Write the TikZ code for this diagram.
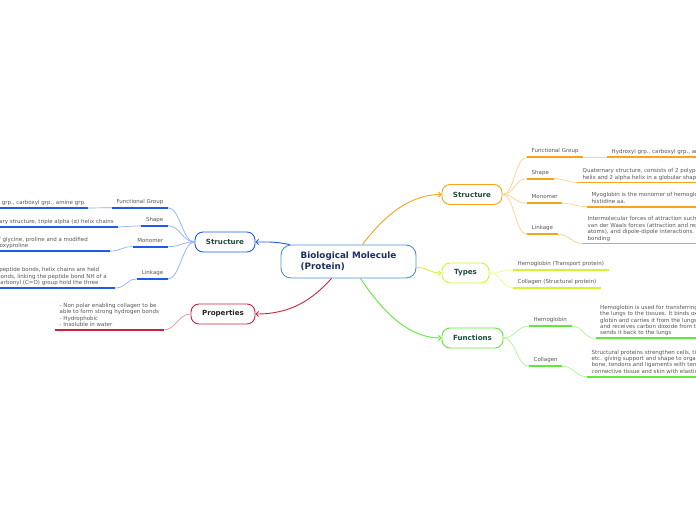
\documentclass[tikz,border=0pt]{standalone}
\usepackage{fontspec}
\setmainfont{DejaVu Sans}
\usepackage{tikz}
\usetikzlibrary{arrows.meta}
\definecolor{MapRoot}{HTML}{4A90D9}
\definecolor{MapRootInk}{HTML}{1D2F5E}
\definecolor{MapInk}{HTML}{1E4D3B}
\definecolor{MapText}{HTML}{555555}
\definecolor{MapOrange}{HTML}{F9A21B}
\definecolor{MapLime}{HTML}{D6F230}
\definecolor{MapGreen}{HTML}{5FEA3A}
\definecolor{MapBlue}{HTML}{1F5BE8}
\definecolor{MapRed}{HTML}{C9243F}
\tikzset{
  root/.style={draw=MapRoot, line width=0.9pt, rounded corners=10pt, fill=white,
    align=left, minimum width=135pt, minimum height=33pt, text=MapRootInk,
    font=\bfseries\fontsize{8.8}{11}\selectfont},
  branch/.style={draw=#1, line width=0.9pt, rounded corners=8pt, fill=white,
    minimum height=20pt, inner xsep=0pt, text=MapInk,
    font=\bfseries\fontsize{7.1}{8}\selectfont},
  topic/.style={inner xsep=4.5pt, inner ysep=3.2pt, text depth=1.3pt, text=MapText,
    font=\fontsize{5.5}{6.4}\selectfont},
  detail/.style={topic, inner ysep=2pt, align=left},
  wire/.style={draw=#1, line width=0.9pt, -{Straight Barb[length=2.5pt,width=5pt]}},
  twig/.style={draw=#1!50, line width=0.7pt},
  rule/.style={draw=#1, line width=1.7pt}
}

\begin{document}
\begin{tikzpicture}[x=1pt, y=-1pt]
  \useasboundingbox (0,0) rectangle (696,520);
  \clip (0,0) rectangle (696,520);

  % main topics
  \node[root] (root) at (348.5,261.5) {Biological Molecule\\(Protein)};
  \node[branch=MapOrange, minimum width=60pt] (strR) at (472,194.5) {Structure};
  \node[branch=MapLime, minimum width=47pt] (typ) at (465.5,273) {Types};
  \node[branch=MapGreen, minimum width=61pt] (fun) at (472.5,338) {Functions};
  \node[branch=MapBlue, minimum width=60pt] (strL) at (225,242) {Structure};
  \node[branch=MapRed, minimum width=64pt, text=black!85] (prop) at (223,314) {Properties};

  % structure, right
  \node[topic, anchor=south west] (fgR) at (527,157.3) {Functional Group};
  \node[topic, anchor=south west] (shpR) at (527,178.7) {Shape};
  \node[topic, anchor=south west] (monR) at (527,203.3) {Monomer};
  \node[topic, anchor=south west] (lnkR) at (527,234.3) {Linkage};
  \node[detail, anchor=south west] (fgRv) at (607,157.3) {Hydroxyl grp., carboxyl grp., amine grp.};
  \node[detail, anchor=south west] (shpRv) at (578,182.5)
    {Quaternary structure, consists of 2 polypeptide chains of beta\\helix and 2 alpha helix in a globular shape};
  \node[detail, anchor=south west] (monRv) at (587,206.7)
    {Myoglobin is the monomer of hemoglobin with a proximal\\histidine aa.};
  \node[detail, anchor=south west] (lnkRv) at (583,243.5)
    {Intermolecular forces of attraction such as hydrogen bonds,\\van der Waals forces (attraction and repulsion between\\atoms), and dipole-dipole interactions. Also disulfide\\bonding};

  % types
  \node[topic, anchor=south west] (hemT) at (513,270) {Hemoglobin (Transport protein)};
  \node[topic, anchor=south west] (colT) at (513,287.7) {Collagen (Structural protein)};

  % functions
  \node[topic, anchor=south west] (hemF) at (529,326) {Hemoglobin};
  \node[topic, anchor=south west] (colF) at (529,366.3) {Collagen};
  \node[detail, anchor=south west] (hemFv) at (595.5,338.3)
    {Hemoglobin is used for transferring oxygen from\\the lungs to the tissues. It binds oxygen to its\\globin and carries it from the lungs to tissues,\\and receives carbon dioxide from the tissues and\\sends it back to the lungs};
  \node[detail, anchor=south west] (colFv) at (587,376.7)
    {Structural proteins strengthen cells, tissues\\etc. giving support and shape to organs. It binds\\bone, tendons and ligaments with tensile strength,\\connective tissue and skin with elasticity};

  % structure, left
  \node[topic, anchor=south east] (fgL) at (168,207.7) {Functional Group};
  \node[topic, anchor=south east] (shpL) at (168,225.7) {Shape};
  \node[topic, anchor=south east] (monL) at (168,246.7) {Monomer};
  \node[topic, anchor=south east] (lnkL) at (168,279) {Linkage};
  \node[detail, anchor=south east, inner xsep=2pt] (fgLv) at (88,208) {Hydroxyl grp., carboxyl grp., amine grp.};
  \node[detail, anchor=south east, inner xsep=4pt] (shpLv) at (118,227) {Tertiary structure, triple alpha (α) helix chains};
  \node[detail, anchor=south east, inner xsep=22pt] (monLv) at (110,251)
    {Consists of glycine, proline and a modified\\form, hydroxyproline};
  \node[detail, anchor=south east, inner xsep=8pt] (lnkLv) at (115,288)
    {Collagen is chained by peptide bonds, helix chains are held\\together by hydrogen bonds, linking the peptide bond NH of a\\glycine residue with a carbonyl (C=O) group hold the three};

  % properties
  \node[detail, anchor=south west] (propV) at (55,330)
    {- Non polar enabling collagen to be\\able to form strong hydrogen bonds\\- Hydrophobic\\- Insoluble in water};

  % connectors from the root
  \draw[wire=MapOrange] ([xshift=14pt]root.north) .. controls +(18,-24) and +(-35,0) .. (strR.west);
  \draw[wire=MapLime] ([yshift=-6pt]root.east) .. controls +(12,0) and +(-12,0) .. (typ.west);
  \draw[wire=MapGreen] ([xshift=12pt]root.south) .. controls +(20,30) and +(-35,0) .. (fun.west);
  \draw[wire=MapBlue] ([xshift=9pt]root.north west) .. controls +(-15,-3) and +(15,0) .. (strL.east);
  \draw[wire=MapRed] ([xshift=-17pt]root.south) .. controls +(-20,22) and +(35,0) .. (prop.east);

  % twigs
  \foreach \n in {fgR,shpR,monR,lnkR}
    \draw[twig=MapOrange] (strR.east) .. controls +(12,0) and +(-12,0) .. (\n.south west);
  \foreach \n/\v in {fgR/fgRv,shpR/shpRv,monR/monRv,lnkR/lnkRv}
    \draw[twig=MapOrange] (\n.south east) .. controls +(12,0) and +(-12,0) .. (\v.south west);
  \foreach \n in {hemT,colT}
    \draw[twig=MapLime] (typ.east) .. controls +(12,0) and +(-12,0) .. (\n.south west);
  \foreach \n in {hemF,colF}
    \draw[twig=MapGreen] (fun.east) .. controls +(12,0) and +(-12,0) .. (\n.south west);
  \foreach \n/\v in {hemF/hemFv,colF/colFv}
    \draw[twig=MapGreen] (\n.south east) .. controls +(12,0) and +(-12,0) .. (\v.south west);
  \foreach \n in {fgL,shpL,monL,lnkL}
    \draw[twig=MapBlue] (strL.west) .. controls +(-12,0) and +(12,0) .. (\n.south east);
  \foreach \n/\v in {fgL/fgLv,shpL/shpLv,monL/monLv,lnkL/lnkLv}
    \draw[twig=MapBlue] (\n.south west) .. controls +(-12,0) and +(12,0) .. (\v.south east);
  \draw[twig=MapRed] (prop.west) .. controls +(-12,0) and +(12,0) .. (propV.south east);

  % underlines
  \foreach \n/\c in {fgR/MapOrange,shpR/MapOrange,monR/MapOrange,lnkR/MapOrange,
      fgRv/MapOrange,shpRv/MapOrange,monRv/MapOrange,lnkRv/MapOrange,
      hemT/MapLime,colT/MapLime,hemF/MapGreen,colF/MapGreen,hemFv/MapGreen,colFv/MapGreen,
      fgL/MapBlue,shpL/MapBlue,monL/MapBlue,lnkL/MapBlue,
      fgLv/MapBlue,shpLv/MapBlue,monLv/MapBlue,lnkLv/MapBlue,propV/MapRed}
    \draw[rule=\c] (\n.south west) -- (\n.south east);
\end{tikzpicture}
\end{document}
